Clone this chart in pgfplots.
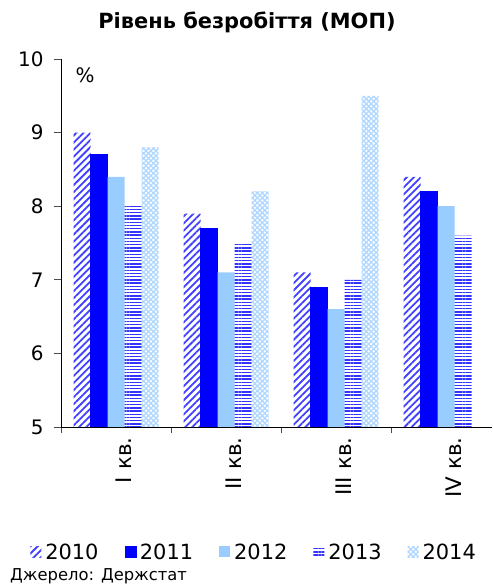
\documentclass[border=0pt]{standalone}
\usepackage{pgfplots}
\pgfplotsset{compat=1.18}
\usetikzlibrary{patterns.meta}
\usepackage{fontspec}
\setmainfont{DejaVu Sans}
\definecolor{cA}{RGB}{64,64,255}
\definecolor{cB}{RGB}{0,0,255}
\definecolor{cC}{RGB}{153,204,255}
\definecolor{cD}{RGB}{51,51,255}
\definecolor{cE}{RGB}{175,215,255}
\begin{document}
\begin{tikzpicture}
\useasboundingbox (0,0) rectangle (493bp,584bp);
\begin{axis}[
  at={(61bp,157bp)}, anchor=south west,
  scale only axis, width=431bp, height=368bp,
  ybar=0pt, bar width=17bp,
  xmin=-0.5, xmax=3.418, ymin=5, ymax=10,
  axis x line=bottom, axis y line=left,
  axis line style={-, line width=0.8bp, black},
  xtick={0,1,2,3},
  xticklabels={I кв., II кв., III кв., IV кв.},
  minor xtick={-0.5,0.5,1.5,2.5},
  ytick={5,6,7,8,9,10},
  tick align=outside,
  major tick length=7bp, minor tick length=6bp,
  every major x tick/.append style={draw=none},
  every minor x tick/.append style={line width=0.6bp, black!70},
  every major y tick/.append style={line width=0.6bp, black!70},
  /pgf/number format/assume math mode=true,
  yticklabel style={font=\fontsize{20}{23}\selectfont, xshift=-7bp},
  xticklabel style={font=\fontsize{21.5}{25}\selectfont, rotate=90, anchor=east, yshift=-8bp},
  every axis plot post/.append style={legend image code/.code={\path[##1] (0bp,-5bp) rectangle (11bp,6bp);}},
  legend columns=5,
  legend style={at={(0.448,-0.34)}, anchor=center, draw=none, fill=none,
    font=\fontsize{21}{24}\selectfont, inner sep=0pt,
    /tikz/every even column/.append style={column sep=24bp},
    /tikz/every odd column/.append style={column sep=2bp}},
]
\addplot[draw=none, pattern={Lines[angle=45, distance=5bp, line width=1.8bp]}, pattern color=cA]
  coordinates {(0,9.0) (1,7.9) (2,7.1) (3,8.4)};
\addplot[draw=cB, fill=cB]
  coordinates {(0,8.7) (1,7.7) (2,6.9) (3,8.2)};
\addplot[draw=none, fill=cC]
  coordinates {(0,8.4) (1,7.1) (2,6.6) (3,8.0)};
\addplot[draw=none, pattern={Lines[angle=0, distance=3.2bp, line width=1.4bp]}, pattern color=cD]
  coordinates {(0,8.0) (1,7.5) (2,7.0) (3,7.6)};
\addplot[draw=none, pattern={Hatch[angle=45, distance=3.5bp, line width=1.3bp]}, pattern color=cE]
  coordinates {(0,8.8) (1,8.2) (2,9.5)};
\legend{2010,2011,2012,2013,2014}
\node[anchor=center, font=\fontsize{20}{23}\selectfont] at (rel axis cs:0.056,0.955) {\%};
\end{axis}
\node[anchor=base, font=\bfseries\fontsize{21}{24}\selectfont] at (247bp,555bp) {Рівень безробіття (МОП)};
\node[anchor=base west, inner sep=0pt, font=\fontsize{16.4}{19}\selectfont] at (10bp,4bp) {Джерело: Держстат};
\end{tikzpicture}
\end{document}
